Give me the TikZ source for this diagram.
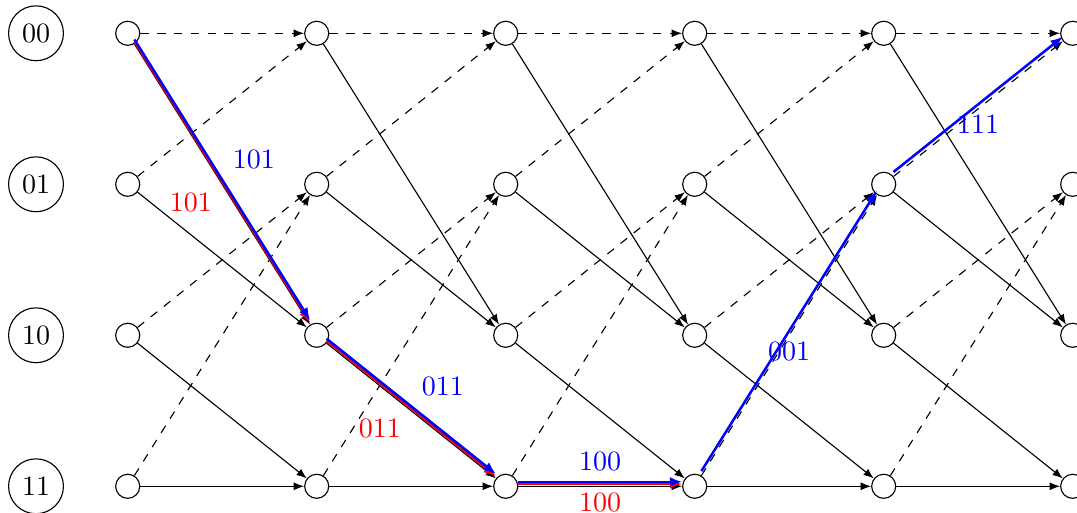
\documentclass[tikz,border=0pt]{standalone}
\usetikzlibrary{arrows.meta}
\begin{document}
\begin{tikzpicture}[x=2.3724cm,y=-1.8954cm,
  st/.style={circle,draw,minimum size=19.6pt,inner sep=1pt},
  tn/.style={circle,draw,minimum size=8.6pt,inner sep=0pt},
  zero/.style={dashed,-{Latex[length=3.7pt,width=2.8pt]}},
  one/.style={-{Latex[length=3.7pt,width=2.8pt]}},
  rp/.style={red,thick,-{Latex[length=4.3pt,width=3.4pt]},transform canvas={yshift=0.8pt}},
  bp/.style={blue,line width=0.9pt,-{Latex[length=4.4pt,width=3.5pt]},transform canvas={yshift=1.6pt}}]
 \useasboundingbox (-0.6757,-0.2205) rectangle (5.0228,3.1768);
 \foreach \s/\lab in {0/00,1/01,2/10,3/11}
  \node[st] (s\s) at (-0.4852,\s) {\lab};
 \foreach \i in {0,...,5}
  \foreach \s in {0,...,3}
   \node[tn] (n\i\s) at (\i,\s) {};
 \foreach \i [count=\j] in {0,...,4}
  \foreach \s/\z/\o in {0/0/2,1/0/2,2/1/3,3/1/3} {
   \draw[zero] (n\i\s) -- (n\j\z);
   \draw[one] (n\i\s) -- (n\j\o);
  }
 \foreach \a/\b/\lab/\p/\dy in {00/12/101/below left/0pt,12/23/011/below left/0pt,23/33/100/below/0.5pt}
  \draw[rp] (n\a) -- node[\p,yshift=\dy] {\lab} (n\b);
 \foreach \a/\b/\lab/\p in {00/12/101/above right,12/23/011/above right,23/33/100/above,
   33/41/001/below,41/50/111/below}
  \draw[bp] (n\a) -- node[\p] {\lab} (n\b);
\end{tikzpicture}
\end{document}
